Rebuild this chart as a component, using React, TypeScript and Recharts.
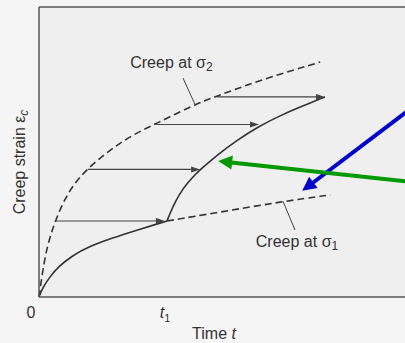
import { ComposedChart, Line, XAxis, YAxis, ReferenceLine, ReferenceDot, CartesianGrid } from 'recharts'

// time t (arbitrary units) vs creep strain e
const T1 = 3.2

const sigma2 = [
  { t: 0, e: 0 }, { t: 0.06, e: 0.59 }, { t: 0.13, e: 1.2 }, { t: 0.2, e: 1.68 },
  { t: 0.3, e: 2.18 }, { t: 0.4, e: 2.58 }, { t: 0.58, e: 3.2 }, { t: 0.83, e: 3.82 },
  { t: 1.2, e: 4.42 }, { t: 1.78, e: 5.08 }, { t: 2.35, e: 5.6 }, { t: 2.9, e: 5.96 },
  { t: 3.9, e: 6.64 }, { t: 4.45, e: 6.93 }, { t: 5.7, e: 7.56 }, { t: 7.03, e: 8.1 },
]

const sigma1Before = [
  { t: 0, e: 0 }, { t: 0.09, e: 0.31 }, { t: 0.26, e: 0.68 }, { t: 0.51, e: 1.08 },
  { t: 0.84, e: 1.43 }, { t: 1.25, e: 1.74 }, { t: 1.84, e: 2.04 }, { t: 2.43, e: 2.3 },
  { t: 3.0, e: 2.54 }, { t: 3.2, e: 2.62 },
]

const sigma1After = [
  { t: 3.2, e: 2.62 }, { t: 4.53, e: 2.93 }, { t: 6.03, e: 3.28 }, { t: 7.28, e: 3.52 },
]

const afterChange = [
  { t: 3.2, e: 2.62 }, { t: 3.28, e: 2.9 }, { t: 3.4, e: 3.27 }, { t: 3.6, e: 3.75 },
  { t: 3.85, e: 4.15 }, { t: 4.03, e: 4.39 }, { t: 4.45, e: 4.89 }, { t: 4.9, e: 5.36 },
  { t: 5.48, e: 5.88 }, { t: 6.1, e: 6.3 }, { t: 6.53, e: 6.55 }, { t: 7.15, e: 6.9 },
]

// horizontal shift arrows: from sigma2 curve to the post-t1 curve
const shiftArrows = [
  { from: 0.41, to: 3.15, e: 2.62 },
  { from: 1.22, to: 4.03, e: 4.4 },
  { from: 2.9, to: 5.5, e: 5.95 },
  { from: 4.45, to: 7.15, e: 6.9 },
]

const leaders = [
  { t1: 3.6, e1: 7.55, t2: 3.9, e2: 6.64 },
  { t1: 6.1, e1: 3.3, t2: 6.4, e2: 2.31 },
]

const curveLabels = [
  { t: 3.31, e: 7.9, sub: '2' },
  { t: 6.45, e: 1.72, sub: '1' },
]

const blueArrow = { t1: 9.78, e1: 7.0, t2: 6.58, e2: 3.66 }
const greenArrow = { t1: 9.78, e1: 3.9, t2: 4.48, e2: 4.69 }

const INK = '#333'
const FONT = '"Liberation Sans", Arial, sans-serif'

function arrowShape(color: string, width: number, headLen: number, headHalf: number) {
  return (p: any) => {
    const { x1, y1, x2, y2 } = p
    const dx = x2 - x1, dy = y2 - y1
    const len = Math.hypot(dx, dy) || 1
    const ux = dx / len, uy = dy / len
    const bx = x2 - ux * headLen, by = y2 - uy * headLen
    const pts = `${x2},${y2} ${bx - uy * headHalf},${by + ux * headHalf} ${bx + uy * headHalf},${by - ux * headHalf}`
    return (
      <g>
        <line x1={x1} y1={y1} x2={bx + ux} y2={by + uy} stroke={color} strokeWidth={width} />
        <polygon points={pts} fill={color} />
      </g>
    )
  }
}

const thinArrow = arrowShape('#444', 1.1, 9, 3)

function CurveLabel(sub: string) {
  return (p: any) => (
    <text x={p.cx} y={p.cy} textAnchor="middle" fontFamily={FONT} fontSize={16} fill={INK}>
      Creep at σ<tspan fontSize={12} dy={3}>{sub}</tspan>
    </text>
  )
}

function TimeTick(p: any) {
  const v = p.payload.value
  if (v === 0) {
    return <text x={p.x - 8} y={318} textAnchor="middle" fontFamily={FONT} fontSize={16} fill={INK}>0</text>
  }
  return (
    <text x={p.x - 2} y={318} textAnchor="middle" fontFamily={FONT} fontSize={16} fill={INK}>
      <tspan fontStyle="italic">t</tspan><tspan fontSize={11} dy={4}>1</tspan>
    </text>
  )
}

export default function App() {
  return (
    <div style={{ position: 'absolute', left: 0, top: 0, width: 405, height: 343, overflow: 'hidden', background: '#f5f5f5' }}>
      <ComposedChart width={439} height={343} margin={{ top: 7, right: 0, left: 0, bottom: 0 }}>
        <CartesianGrid horizontal={false} vertical={false} fill="#efefef" />
        <XAxis
          type="number" dataKey="t" domain={[0, 10]} ticks={[0, T1]} height={46}
          tickLine={false} axisLine={{ stroke: '#555', strokeWidth: 1.5 }} tick={TimeTick}
          label={{
            content: () => (
              <text x={214} y={339} textAnchor="middle" fontFamily={FONT} fontSize={16} fill={INK}>
                Time <tspan fontStyle="italic">t</tspan>
              </text>
            ),
          }}
        />
        <YAxis
          type="number" dataKey="e" domain={[0, 10]} width={39} tick={false} tickLine={false}
          axisLine={{ stroke: '#555', strokeWidth: 1.5 }}
          label={{
            content: () => (
              <text x={25} y={162} transform="rotate(-90 25 162)" textAnchor="middle" fontFamily={FONT} fontSize={16} fill={INK}>
                Creep strain ε<tspan fontSize={12} dy={3} fontStyle="italic">c</tspan>
              </text>
            ),
          }}
        />
        <ReferenceLine y={10} stroke="#555" strokeWidth={1.5} />

        <Line data={sigma2} dataKey="e" type="basis" stroke={INK} strokeWidth={1.6} strokeDasharray="7 4" dot={false} activeDot={false} isAnimationActive={false} />
        <Line data={sigma1After} dataKey="e" type="basis" stroke={INK} strokeWidth={1.6} strokeDasharray="7 4" dot={false} activeDot={false} isAnimationActive={false} />
        <Line data={sigma1Before} dataKey="e" type="basis" stroke={INK} strokeWidth={1.6} dot={false} activeDot={false} isAnimationActive={false} />
        <Line data={afterChange} dataKey="e" type="basis" stroke={INK} strokeWidth={1.6} dot={false} activeDot={false} isAnimationActive={false} />

        {shiftArrows.map((a, i) => (
          <ReferenceLine key={'s' + i} segment={[{ x: a.from, y: a.e }, { x: a.to, y: a.e }]} shape={thinArrow} />
        ))}
        {leaders.map((l, i) => (
          <ReferenceLine key={'l' + i} segment={[{ x: l.t1, y: l.e1 }, { x: l.t2, y: l.e2 }]} stroke="#444" strokeWidth={1} />
        ))}
        {curveLabels.map((c, i) => (
          <ReferenceDot key={'c' + i} x={c.t} y={c.e} r={0} shape={CurveLabel(c.sub)} />
        ))}

        <ReferenceLine segment={[{ x: blueArrow.t1, y: blueArrow.e1 }, { x: blueArrow.t2, y: blueArrow.e2 }]} shape={arrowShape('#0000cc', 4, 14, 7)} />
        <ReferenceLine segment={[{ x: greenArrow.t1, y: greenArrow.e1 }, { x: greenArrow.t2, y: greenArrow.e2 }]} shape={arrowShape('#009a00', 4, 14, 7)} />
      </ComposedChart>
    </div>
  )
}
